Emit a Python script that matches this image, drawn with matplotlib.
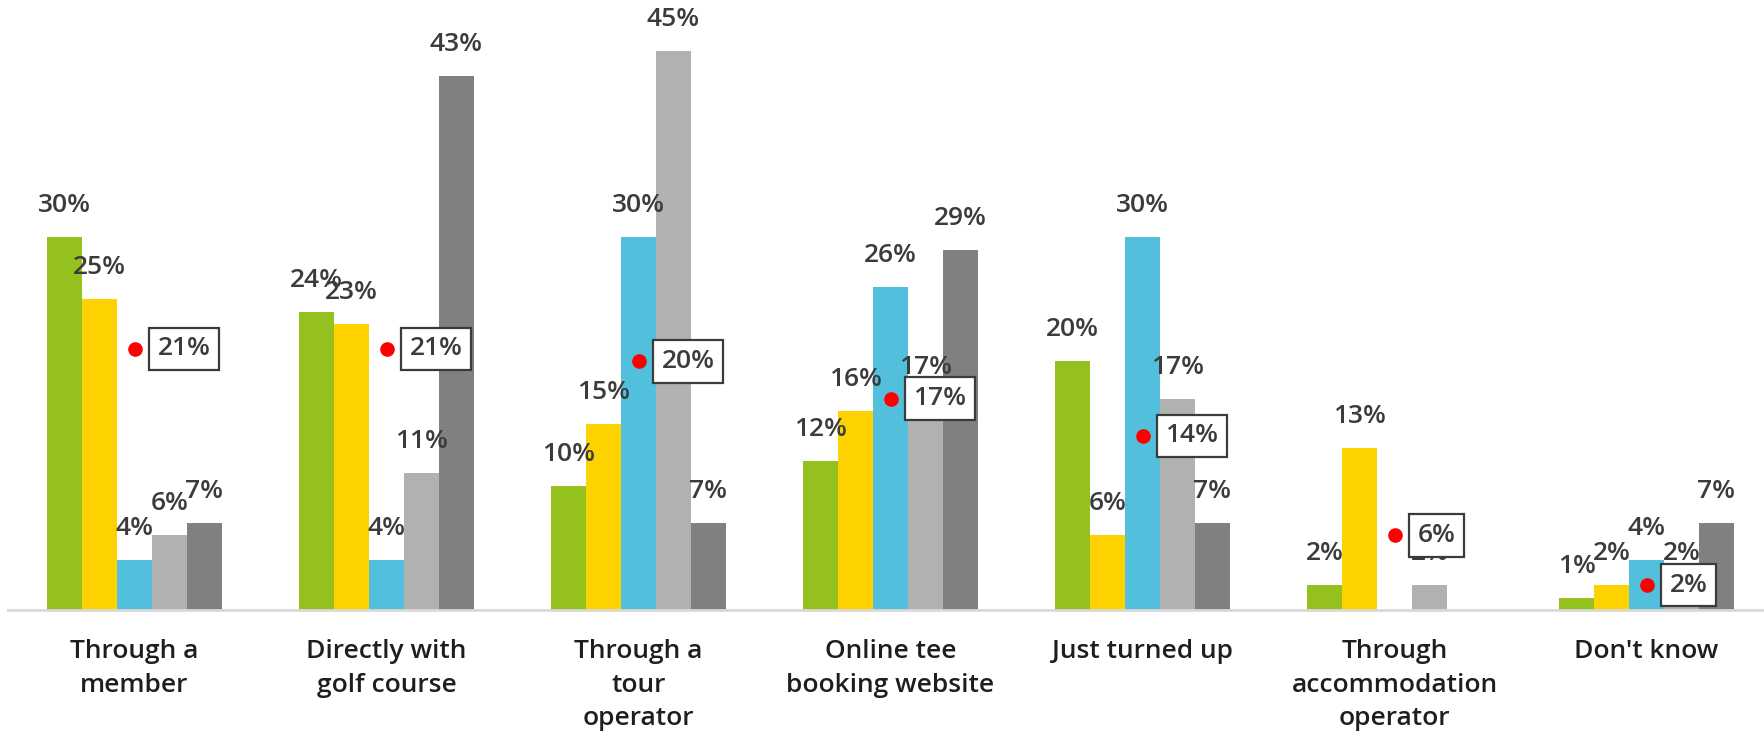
import matplotlib.pyplot as plt
import numpy as np

plt.rcParams['font.family'] = ['Open Sans', 'DejaVu Sans']

categories = [
    "Through a\nmember",
    "Directly with\ngolf course",
    "Through a\ntour\noperator",
    "Online tee\nbooking website",
    "Just turned up",
    "Through\naccommodation\noperator",
    "Don't know",
]

# one list per series, None where there is no bar
series_green = [30, 24, 10, 12, 20, 2, 1]
series_yellow = [25, 23, 15, 16, 6, 13, 2]
series_blue = [4, 4, 30, 26, 30, None, 4]
series_light = [6, 11, 45, 17, 17, 2, 2]
series_dark = [7, 43, 7, 29, 7, None, 7]
average = [21, 21, 20, 17, 14, 6, 2]

colors = ["#95C11F", "#FDD200", "#52C0DC", "#B1B1B0", "#808080"]
text_color = "#3B3B3B"
label_weight = "semibold"

fig = plt.figure(figsize=(17.64, 7.34), dpi=100)
ax = fig.add_axes([0, 124 / 734, 1, 610 / 734])

n = len(categories)
x = np.arange(n)
bar_w = 35 / 252
offsets = (np.arange(5) - 2) * bar_w
shift = 8.5 / 252

all_series = [series_green, series_yellow, series_blue, series_light, series_dark]
for k, vals in enumerate(all_series):
    for i, v in enumerate(vals):
        if v is None:
            continue
        ax.bar(x[i] + offsets[k], v, width=bar_w, color=colors[k], zorder=2)
        ax.annotate(f"{v}%", (x[i] + offsets[k], v), xytext=(0, 19),
                    textcoords="offset pixels", ha="center", va="bottom",
                    fontsize=19, fontweight=label_weight, color=text_color, zorder=3)

# red average marker with boxed value
ax.plot(x, average, "o", color="#FF0000", markersize=9.5, zorder=5, linestyle="none")
for i, v in enumerate(average):
    ax.annotate(f"{v}%", (x[i], v), xytext=(23, 0), textcoords="offset pixels",
                ha="left", va="center", fontsize=19, fontweight=label_weight,
                color=text_color, zorder=6,
                bbox=dict(boxstyle="square,pad=0.33", facecolor="white",
                          edgecolor="#3B3B3B", linewidth=1.6))

ax.set_xlim(-0.5 - shift, n - 0.5 - shift)
ax.set_ylim(0, 610 / 12.43)

ax.set_xticks(x)
ax.set_xticklabels(categories, fontsize=19, fontweight=label_weight,
                   color="#1E1E1E", linespacing=1.45)
ax.tick_params(axis="x", length=0, pad=21)
ax.set_yticks([])

for side in ["top", "right", "left"]:
    ax.spines[side].set_visible(False)
ax.spines["bottom"].set_color("#D9D9D9")
ax.spines["bottom"].set_linewidth(2)
ax.spines["bottom"].set_bounds(-0.5 - shift + 8 / 252, n - 0.5 - shift)

fig.savefig("out.png", dpi=100)
